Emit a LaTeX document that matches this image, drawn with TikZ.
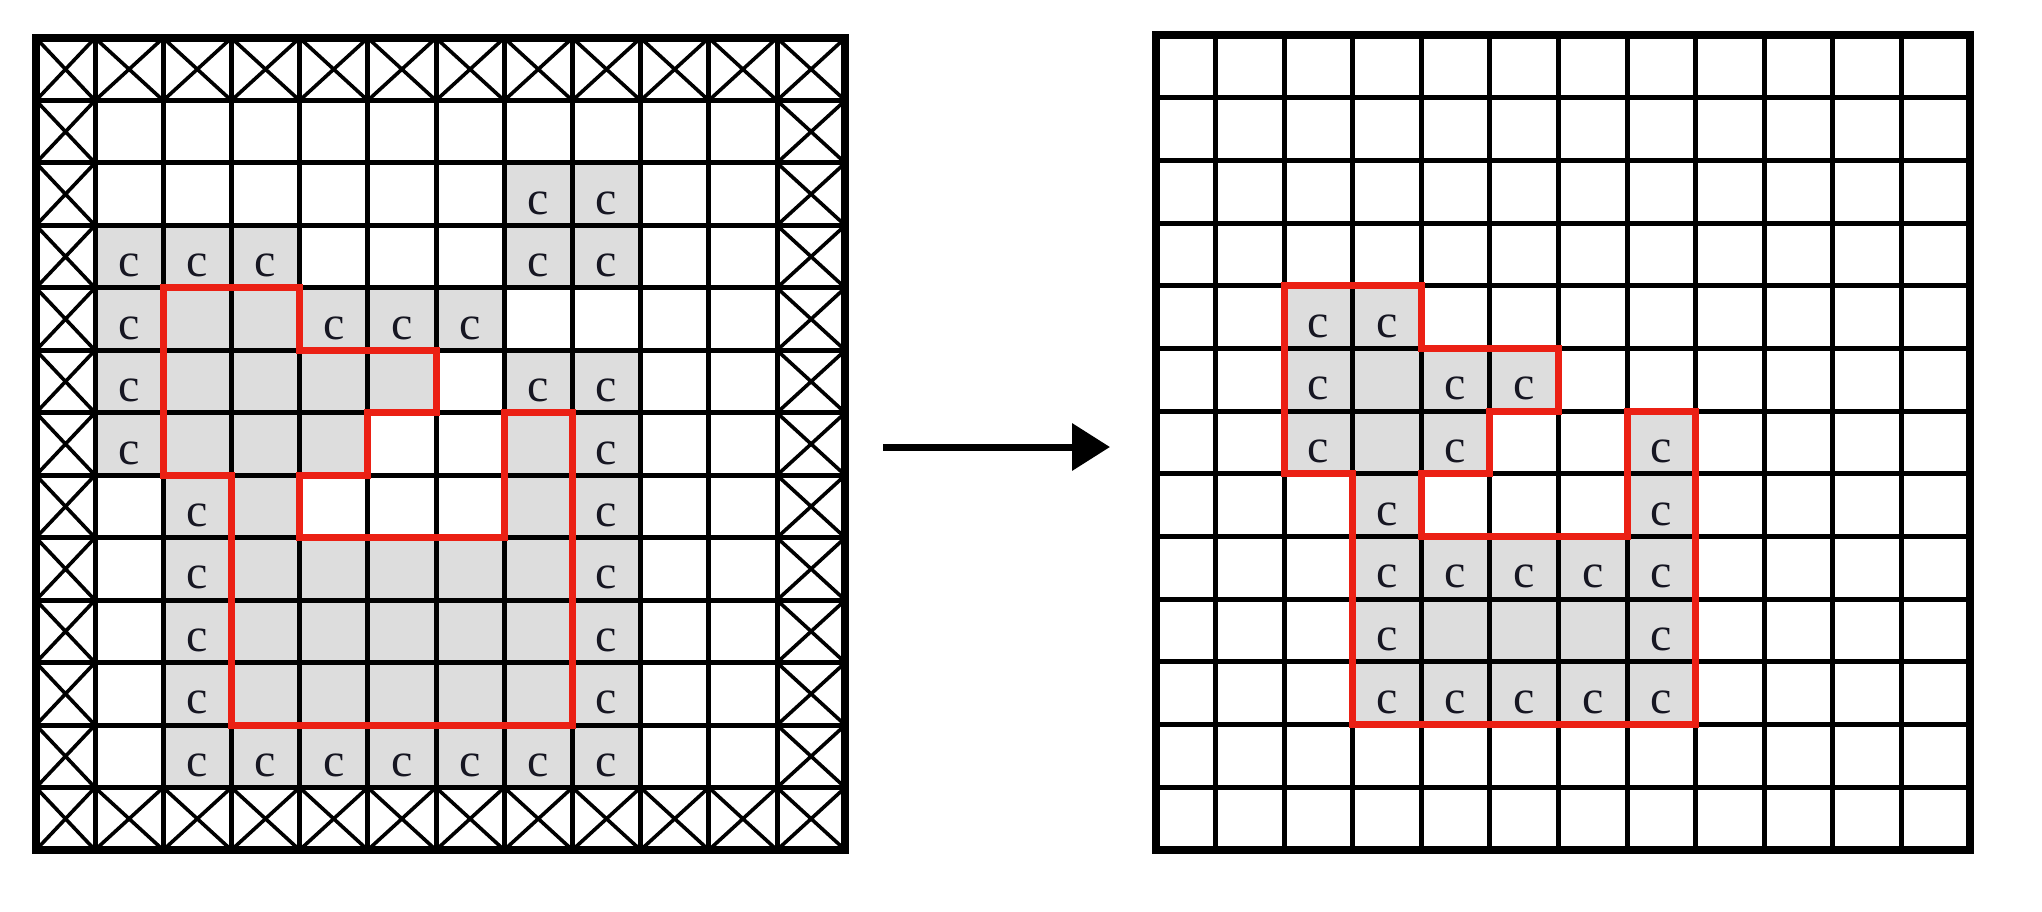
\documentclass[tikz,border=0pt]{standalone}
\usepackage{fontspec}
\setmainfont{Liberation Serif}
\usetikzlibrary{calc,arrows.meta}
\definecolor{cellgray}{RGB}{221,221,221}
\definecolor{redline}{RGB}{235,32,20}
\definecolor{ink}{RGB}{22,22,34}
\tikzset{
  gridline/.style={line width=5pt,draw=black},
  border/.style={line width=7.5pt,draw=black},
  crossline/.style={line width=3.6pt,draw=black},
  outline/.style={line width=7pt,draw=redline,line join=miter},
  ctext/.style={font=\fontsize{48}{48}\selectfont,text=ink,inner sep=0pt,anchor=center},
  arrowline/.style={line width=7pt,draw=black,-{Triangle[length=38pt,width=46pt]}}
}
% #1 prefix, #2 x0, #3 x1, #4 col width, #5 y0, #6 row height
\newcommand\mkgrid[6]{%
  \foreach \ii in {0,...,12}{%
    \foreach \jj in {0,...,13}{%
      \pgfmathsetmacro\xx{\ii==0 ? #2 : #3+(\ii-1)*#4}%
      \pgfmathsetmacro\yy{#5+\jj*#6}%
      \coordinate (#1-\ii-\jj) at (\xx,\yy);
    }%
  }%
}
\newcommand\gcell[3]{%
  \pgfmathtruncatemacro\cc{#2+1}\pgfmathtruncatemacro\rr{#3+1}%
  \fill[cellgray] (#1-#2-#3) rectangle (#1-\cc-\rr);}
\newcommand\xcell[3]{%
  \pgfmathtruncatemacro\cc{#2+1}\pgfmathtruncatemacro\rr{#3+1}%
  \draw[crossline] (#1-#2-#3) -- (#1-\cc-\rr) (#1-\cc-#3) -- (#1-#2-\rr);}
\newcommand\cnode[3]{%
  \pgfmathtruncatemacro\cc{#2+1}\pgfmathtruncatemacro\rr{#3+1}%
  \node[ctext] (#1c-#2-#3) at ($(#1-#2-#3)!0.5!(#1-\cc-\rr)+(0,9)$) {c};}
\newcommand\gridlines[1]{%
  \foreach \ii in {1,...,11}{\draw[gridline] (#1-\ii-0) -- (#1-\ii-13);}%
  \foreach \jj in {1,...,12}{\draw[gridline] (#1-0-\jj) -- (#1-12-\jj);}%
  \draw[border] (#1-0-0) rectangle (#1-12-13);}
\newcommand\redshape[1]{%
  \draw[outline] (#1-2-4) -- (#1-4-4) -- (#1-4-5) -- (#1-6-5) -- (#1-6-6) -- (#1-5-6)
    -- (#1-5-7) -- (#1-4-7) -- (#1-4-8) -- (#1-7-8) -- (#1-7-6) -- (#1-8-6)
    -- (#1-8-11) -- (#1-3-11) -- (#1-3-7) -- (#1-2-7) -- cycle;}
\def\inside{2/4,3/4,2/5,3/5,4/5,5/5,2/6,3/6,4/6,7/6,3/7,7/7,3/8,4/8,5/8,6/8,7/8,3/9,4/9,5/9,6/9,7/9,3/10,4/10,5/10,6/10,7/10}
\def\leftc{7/2,8/2,1/3,2/3,3/3,7/3,8/3,1/4,4/4,5/4,6/4,1/5,7/5,8/5,1/6,8/6,2/7,8/7,2/8,8/8,2/9,8/9,2/10,8/10,2/11,3/11,4/11,5/11,6/11,7/11,8/11}
\def\rightc{2/4,3/4,2/5,4/5,5/5,2/6,4/6,7/6,3/7,7/7,3/8,4/8,5/8,6/8,7/8,3/9,7/9,3/10,4/10,5/10,6/10,7/10}
\begin{document}
\begin{tikzpicture}[x=1pt,y=-1pt]
\useasboundingbox (0,0) rectangle (2042,911);
\mkgrid{A}{36}{95}{68.2}{38}{62.46}
\mkgrid{B}{1156}{1215.5}{68.6}{35}{62.69}
% left grid
\foreach \cx/\ry in \inside {\gcell{A}{\cx}{\ry}}
\foreach \cx/\ry in \leftc {\gcell{A}{\cx}{\ry}}
\foreach \ii in {0,...,11}{\xcell{A}{\ii}{0}\xcell{A}{\ii}{12}}
\foreach \jj in {1,...,11}{\xcell{A}{0}{\jj}\xcell{A}{11}{\jj}}
\gridlines{A}
\redshape{A}
\foreach \cx/\ry in \leftc {\cnode{A}{\cx}{\ry}}
% right grid
\foreach \cx/\ry in \inside {\gcell{B}{\cx}{\ry}}
\gridlines{B}
\redshape{B}
\foreach \cx/\ry in \rightc {\cnode{B}{\cx}{\ry}}
% arrow
\coordinate (arrS) at (883,447);
\coordinate (arrE) at (1110,447);
\draw[arrowline] (arrS) -- (arrE);
\end{tikzpicture}
\end{document}
